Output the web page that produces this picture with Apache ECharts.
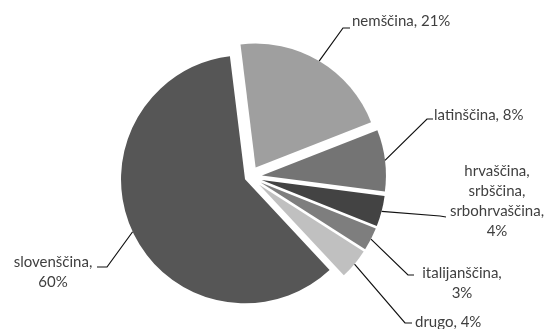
<!DOCTYPE html>
<html>
<head>
<meta charset="utf-8">
<script src="https://cdn.jsdelivr.net/npm/echarts@6/dist/echarts.min.js"></script>
<style>
  html, body { margin: 0; padding: 0; background: #ffffff; }
  #chart { width: 551px; height: 329px; }
</style>
</head>
<body>
<div id="chart"></div>
<script>
// Jeziki in deleži (v %)
const languages = ['nemščina', 'latinščina', 'hrvaščina,\nsrbščina,\nsrbohrvaščina', 'italijanščina', 'drugo', 'slovenščina'];
const shares = [21, 8, 4, 3, 4, 60];

// Slog
const colors = ['#9f9f9f', '#747474', '#434343', '#7e7e7e', '#c0c0c0', '#565656'];
const explode = [11, 12, 12, 12, 12, 5.5];   // odmik izrezov od središča (px)
const separators = [' ', ' ', '\n', '\n', ' ', '\n'];
const pie = { cx: 250, cy: 177, r: 124, start: 97 };

// Postavitev oznak: sidro besedila, poravnava, pregib in konec vodilne črte
const labelPlacement = [
  { x: 352, y: 21,  align: 'left',   elbow: [343, 28],  end: [350, 28] },
  { x: 434, y: 115, align: 'left',   elbow: [427, 119], end: [433, 119] },
  { x: 497, y: 201, align: 'center', elbow: [440, 216], end: [446, 217] },
  { x: 462, y: 283, align: 'center', elbow: [408, 275], end: [414, 275] },
  { x: 415, y: 322, align: 'left',   elbow: [405, 323], end: [412, 323] },
  { x: 53,  y: 272, align: 'center', elbow: [107, 267], end: [97, 267] }
];

const total = shares.reduce((a, b) => a + b, 0);
let acc = 0;
const series = shares.map((v, i) => {
  const mid = (pie.start - (acc + v / 2) / total * 360) * Math.PI / 180;
  acc += v;
  const dx = Math.cos(mid) * explode[i];
  const dy = -Math.sin(mid) * explode[i];
  const place = labelPlacement[i];
  return {
    type: 'pie',
    radius: pie.r,
    center: [pie.cx + dx, pie.cy + dy],
    startAngle: pie.start,
    clockwise: true,
    silent: true,
    animation: false,
    avoidLabelOverlap: false,
    emphasis: { disabled: true },
    label: { show: false },
    labelLine: { show: false },
    data: shares.map((val, j) => ({
      name: languages[j],
      value: val,
      itemStyle: { color: j === i ? colors[j] : 'rgba(0,0,0,0)' },
      label: {
        show: j === i,
        position: 'outside',
        formatter: (p) => p.name + ',' + separators[j] + p.value + '%',
        fontFamily: 'Lato',
        fontSize: 15,
        lineHeight: 20,
        color: '#3f3f3f',
        overflow: 'none'
      },
      labelLine: {
        show: j === i,
        length: 10,
        length2: 6,
        lineStyle: { color: '#111111', width: 1.2 }
      }
    })),
    labelLayout: (p) => {
      if (p.dataIndex !== i) return {};
      const start = p.labelLinePoints ? p.labelLinePoints[0] : place.elbow;
      return {
        x: place.x,
        y: place.y,
        align: place.align,
        verticalAlign: 'middle',
        labelLinePoints: [start, place.elbow, place.end]
      };
    }
  };
});

const chart = echarts.init(document.getElementById('chart'), null, { renderer: 'canvas' });
chart.setOption({
  backgroundColor: '#ffffff',
  animation: false,
  series: series
});
</script>
</body>
</html>
